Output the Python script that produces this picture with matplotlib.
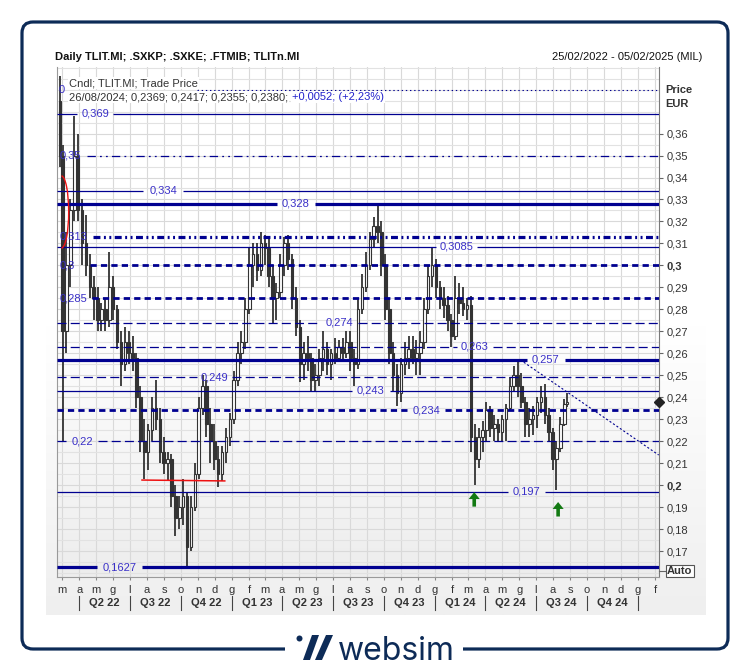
import numpy as np
import pandas as pd
import matplotlib
matplotlib.use("Agg")
import matplotlib.pyplot as plt
import matplotlib.dates as mdates
import matplotlib.transforms as mtransforms
from matplotlib.patches import FancyBboxPatch, Rectangle, Polygon, Circle, Arc
from matplotlib.colors import LinearSegmentedColormap
from matplotlib.lines import Line2D

plt.rcParams['font.family'] = ['Liberation Sans', 'DejaVu Sans']
plt.rcParams['lines.scale_dashes'] = False

# ---------------- data (weekly candles) ----------------
week_open = [0.375, 0.35, 0.27, 0.30, 0.325, 0.35, 0.325, 0.31, 0.30, 0.29,
             0.285, 0.275, 0.28, 0.275, 0.29, 0.28, 0.265, 0.255, 0.265, 0.26,
             0.258, 0.24, 0.22, 0.215, 0.225, 0.235, 0.23, 0.215, 0.21, 0.212,
             0.195, 0.185, 0.19, 0.195, 0.172, 0.19, 0.205, 0.235, 0.245, 0.228,
             0.22, 0.212, 0.205, 0.215, 0.222, 0.23, 0.248, 0.26, 0.265, 0.28,
             0.30, 0.305, 0.298, 0.31, 0.308, 0.295, 0.285, 0.288, 0.30, 0.31,
             0.303, 0.285, 0.272, 0.255, 0.26, 0.258, 0.248, 0.25, 0.258, 0.262,
             0.255, 0.26, 0.258, 0.263, 0.26, 0.265, 0.258, 0.255, 0.28, 0.29,
             0.30, 0.312, 0.318, 0.315, 0.30, 0.28, 0.26, 0.25, 0.242, 0.255,
             0.258, 0.262, 0.258, 0.26, 0.265, 0.28, 0.295, 0.30, 0.29, 0.285,
             0.282, 0.275, 0.268, 0.285, 0.283, 0.28, 0.282, 0.222, 0.212, 0.222,
             0.225, 0.234, 0.226, 0.228, 0.224, 0.23, 0.235, 0.245, 0.25, 0.245,
             0.238, 0.228, 0.23, 0.232, 0.238, 0.24, 0.232, 0.224, 0.212, 0.217,
             0.228, 0.2369]
week_high = [0.386, 0.355, 0.315, 0.33, 0.368, 0.36, 0.33, 0.323, 0.305, 0.295,
             0.29, 0.283, 0.285, 0.306, 0.295, 0.282, 0.27, 0.272, 0.27, 0.268,
             0.26, 0.245, 0.23, 0.228, 0.24, 0.248, 0.235, 0.222, 0.215, 0.214,
             0.20, 0.195, 0.203, 0.197, 0.195, 0.21, 0.24, 0.25, 0.248, 0.235,
             0.228, 0.218, 0.218, 0.226, 0.233, 0.252, 0.265, 0.27, 0.285, 0.308,
             0.31, 0.31, 0.315, 0.314, 0.313, 0.30, 0.292, 0.305, 0.313, 0.314,
             0.305, 0.29, 0.275, 0.265, 0.268, 0.26, 0.255, 0.262, 0.27, 0.265,
             0.262, 0.267, 0.266, 0.267, 0.27, 0.27, 0.262, 0.285, 0.296, 0.306,
             0.315, 0.322, 0.328, 0.32, 0.305, 0.285, 0.265, 0.255, 0.258, 0.265,
             0.268, 0.268, 0.266, 0.27, 0.285, 0.30, 0.3085, 0.303, 0.293, 0.29,
             0.286, 0.278, 0.295, 0.292, 0.29, 0.285, 0.286, 0.228, 0.226, 0.229,
             0.238, 0.236, 0.232, 0.23, 0.232, 0.237, 0.249, 0.254, 0.257, 0.251,
             0.24, 0.235, 0.236, 0.24, 0.245, 0.246, 0.235, 0.226, 0.22, 0.231,
             0.239, 0.2417]
week_low = [0.345, 0.22, 0.26, 0.29, 0.32, 0.32, 0.30, 0.295, 0.285, 0.275,
            0.27, 0.27, 0.27, 0.272, 0.275, 0.262, 0.245, 0.252, 0.255, 0.252,
            0.235, 0.215, 0.203, 0.207, 0.22, 0.225, 0.21, 0.205, 0.202, 0.19,
            0.177, 0.18, 0.182, 0.1627, 0.17, 0.188, 0.203, 0.232, 0.222, 0.21,
            0.207, 0.199, 0.202, 0.21, 0.218, 0.228, 0.245, 0.255, 0.262, 0.278,
            0.29, 0.293, 0.295, 0.30, 0.29, 0.274, 0.275, 0.285, 0.295, 0.298,
            0.28, 0.268, 0.247, 0.248, 0.252, 0.243, 0.243, 0.245, 0.252, 0.25,
            0.248, 0.255, 0.256, 0.257, 0.258, 0.252, 0.245, 0.253, 0.278, 0.288,
            0.298, 0.308, 0.31, 0.295, 0.275, 0.255, 0.243, 0.236, 0.238, 0.25,
            0.253, 0.255, 0.25, 0.25, 0.262, 0.278, 0.29, 0.285, 0.28, 0.276,
            0.27, 0.263, 0.266, 0.278, 0.277, 0.275, 0.215, 0.20, 0.208, 0.215,
            0.22, 0.222, 0.22, 0.22, 0.22, 0.22, 0.234, 0.243, 0.24, 0.235,
            0.222, 0.222, 0.223, 0.226, 0.233, 0.228, 0.22, 0.207, 0.1977, 0.215,
            0.227, 0.2355]
week_close = [0.35, 0.27, 0.30, 0.325, 0.35, 0.325, 0.31, 0.30, 0.29, 0.285,
              0.275, 0.28, 0.275, 0.29, 0.28, 0.265, 0.255, 0.265, 0.26, 0.258,
              0.24, 0.22, 0.215, 0.225, 0.235, 0.23, 0.215, 0.21, 0.212, 0.195,
              0.185, 0.19, 0.195, 0.172, 0.19, 0.205, 0.235, 0.245, 0.228, 0.22,
              0.212, 0.205, 0.215, 0.222, 0.23, 0.248, 0.26, 0.265, 0.28, 0.30,
              0.305, 0.298, 0.31, 0.308, 0.295, 0.285, 0.288, 0.30, 0.31, 0.303,
              0.285, 0.272, 0.255, 0.26, 0.258, 0.248, 0.25, 0.258, 0.262, 0.255,
              0.26, 0.258, 0.263, 0.26, 0.265, 0.258, 0.255, 0.28, 0.29, 0.30,
              0.312, 0.318, 0.315, 0.30, 0.28, 0.26, 0.25, 0.242, 0.255, 0.258,
              0.262, 0.258, 0.26, 0.265, 0.28, 0.295, 0.30, 0.29, 0.285, 0.282,
              0.275, 0.268, 0.285, 0.283, 0.28, 0.282, 0.222, 0.212, 0.222, 0.225,
              0.234, 0.226, 0.228, 0.224, 0.23, 0.235, 0.245, 0.25, 0.245, 0.238,
              0.228, 0.23, 0.232, 0.238, 0.24, 0.232, 0.224, 0.212, 0.217, 0.228,
              0.2369, 0.2380]

# analyst horizontal levels
level_values = [0.38, 0.369, 0.35, 0.334, 0.328, 0.313, 0.3085, 0.30, 0.285,
                0.274, 0.263, 0.257, 0.249, 0.243, 0.234, 0.22, 0.197, 0.1627]
level_labels = ['0', '0,369', '0,35', '0,334', '0,328', '0,313', '0,3085', '0,3',
                '0,285', '0,274', '0,263', '0,257', '0,249', '0,243', '0,234',
                '0,22', '0,197', '0,1627']

# trend line and markers
trend_start = ('2024-06-03', 0.257)
trend_end = ('2025-02-07', 0.2137)
red_segment = (('2022-07-23', 0.2023), ('2022-12-19', 0.2019))
arrow_dates = ['2024-03-12', '2024-08-10']
arrow_tops = [0.1968, 0.1923]
last_price = 0.238

month_letters = ['g', 'f', 'm', 'a', 'm', 'g', 'l', 'a', 's', 'o', 'n', 'd']
quarter_labels = ['Q2 22', 'Q3 22', 'Q4 22', 'Q1 23', 'Q2 23', 'Q3 23', 'Q4 23',
                  'Q1 24', 'Q2 24', 'Q3 24', 'Q4 24']

# ---------------- layout / styles ----------------
W, H = 751, 672
NAVY = '#000090'
LBL = '#3a30c8'
TXT = '#333333'
base = pd.Timestamp('2022-03-01')


def dn(d):
    return mdates.date2num(base + pd.Timedelta(days=d))


def fx(px):
    return px / W


def fy(py):
    return 1 - py / H


level_styles = [
    (0.8, (0, (1, 2))), (0.9, '-'), (0.9, (0, (6, 3, 1.3, 3, 1.3, 3))), (0.9, '-'),
    (2.3, '-'), (2.3, (0, (5, 2.5, 1.4, 2.5, 1.4, 2.5))), (0.9, '-'),
    (2.0, (0, (4.5, 3))), (2.0, (0, (4.5, 3))), (0.9, (0, (6.5, 3))),
    (0.9, (0, (6.5, 3))), (2.3, '-'), (0.9, (0, (6.5, 3))), (0.9, '-'),
    (2.0, (0, (4.5, 3))), (0.9, (0, (6.5, 3))), (0.9, '-'), (2.3, '-')]
level_gaps = [(-10, 243), (27, 92), (-10, 45), (146, 218), (387, 455), (-10, 56),
              (673, 747), (-10, 50), (-10, 54), (464, 533), (711, 776),
              (837, 905), (243, 306), (522, 590), (623, 689), (9, 65),
              (803, 869), (63, 144)]

fig = plt.figure(figsize=(W / 100, H / 100), dpi=100)
fig.patch.set_facecolor('white')

grad = np.linspace(0, 1, 256).reshape(-1, 1)
cmap_bg = LinearSegmentedColormap.from_list('bg', ['#ffffff', '#ffffff', '#efefef'])
bg = fig.add_axes([fx(46), fy(615), fx(706) - fx(46), (615 - 40) / H], zorder=0)
bg.set_axis_off()
bg.imshow(grad, aspect='auto', cmap=cmap_bg, extent=[0, 1, 0, 1], origin='upper')

rect = [fx(57), fy(577), (659 - 57) / W, (577 - 67) / H]
pbg = fig.add_axes(rect, zorder=0.5)
pbg.set_axis_off()
cmap_pl = LinearSegmentedColormap.from_list('pl', ['#ffffff', '#ffffff', '#ededed'])
pbg.imshow(grad, aspect='auto', cmap=cmap_pl, extent=[0, 1, 0, 1], origin='upper')

ax = fig.add_axes(rect, zorder=1)
ax.set_facecolor('none')

xmin, xmax = mdates.date2num(pd.Timestamp('2022-02-20')), mdates.date2num(pd.Timestamp('2025-02-07 14:00'))
ax.set_xlim(xmin, xmax)
ax.set_ylim(0.15817, 0.3903)

# grid & ticks
month_starts = pd.date_range('2022-03-01', '2025-02-01', freq='MS')
ax.set_xticks(mdates.date2num(month_starts))
ax.set_xticklabels([month_letters[m.month - 1] for m in month_starts])
yt = np.round(np.arange(0.17, 0.3601, 0.01), 2)
ax.yaxis.tick_right()
ax.set_yticks(yt)
ylabels = [('%.2f' % v).rstrip('0').replace('.', ',') for v in yt]
ax.set_yticklabels(ylabels)
for t, v in zip(ax.get_yticklabels(), yt):
    if abs(v - 0.3) < 1e-9 or abs(v - 0.2) < 1e-9:
        t.set_fontweight('bold')
ax.set_yticks(np.round(np.arange(0.16, 0.3901, 0.005), 3), minor=True)
ax.tick_params(axis='y', which='major', length=3, color='#666666', labelsize=8,
               labelcolor=TXT, pad=2.5, right=True, left=False)
ax.tick_params(axis='y', which='minor', length=0)
ax.tick_params(axis='x', length=2.2, color='#888888', labelsize=8, labelcolor=TXT, pad=3.5)
ax.grid(True, which='major', color='#d9d9d9', lw=0.8, zorder=0)
ax.grid(True, which='minor', axis='y', color='#e2e2e2', lw=0.8, zorder=0)
ax.set_axisbelow(True)
for s in ['left', 'bottom']:
    ax.spines[s].set_color('#9a9a9a')
ax.spines['right'].set_color('#7a7a7a')
ax.spines['top'].set_visible(False)

# candles
dates = list(pd.date_range('2022-02-23', periods=len(week_open), freq='7D'))
dates[0] = pd.Timestamp('2022-02-25')
dates[-1] = pd.Timestamp('2024-08-26')
xd = mdates.date2num(dates)
o = np.array(week_open); h = np.array(week_high)
l = np.array(week_low); c = np.array(week_close)
up = c >= o
ax.vlines(xd, l, h, color='#333333', lw=1.3, zorder=3)
ax.bar(xd, np.maximum(np.abs(c - o), 0.0006), bottom=np.minimum(o, c), width=4.6,
       color=np.where(up, 'white', '#333333'), edgecolor='#333333', lw=0.8, zorder=4)

# level lines
for v, lab, (lw, ls), (g0, g1) in zip(level_values, level_labels, level_styles, level_gaps):
    segs = []
    if g0 > -5:
        segs.append((xmin, dn(g0)))
    segs.append((dn(g1), xmax))
    for a, b in segs:
        ax.plot([a, b], [v, v], color=NAVY, lw=lw, ls=ls, solid_capstyle='butt',
                dash_capstyle='butt', zorder=5)
    if g0 > -5:
        ax.text(dn((g0 + g1) / 2), v, lab, color=LBL, fontsize=8, ha='center',
                va='center', zorder=6)
    elif lab == '0':
        ax.text(dn(0), v, lab, color=LBL, fontsize=8, ha='center', va='center', zorder=6)
    else:
        ax.text(dn(-3.6), v, lab, color=LBL, fontsize=8, ha='left', va='center', zorder=6)

# trend line
ax.plot(mdates.date2num([pd.Timestamp(trend_start[0]), pd.Timestamp(trend_end[0])]),
        [trend_start[1], trend_end[1]], color=NAVY, lw=0.8, ls=(0, (1.5, 1.5)), zorder=5)

# red annotations
(rs0, rv0), (rs1, rv1) = red_segment
ax.plot(mdates.date2num([pd.Timestamp(rs0), pd.Timestamp(rs1)]), [rv0, rv1],
        color='#ee1111', lw=1.1, zorder=6)
ax.add_patch(Arc((dn(-1.0), 0.3243), 26, 0.0328, theta1=-90, theta2=90,
                 color='#ee1111', lw=1.0, zorder=7))

# green arrows
for d, top in zip(arrow_dates, arrow_tops):
    xa = mdates.date2num(pd.Timestamp(d))
    ax.annotate('', xy=(xa, top), xytext=(xa, top - 0.0066),
                arrowprops=dict(facecolor='#137a13', edgecolor='none', width=2.6,
                                headwidth=8, headlength=5, shrink=0), zorder=7)

# last price marker
ax.plot([xmax], [last_price], marker='D', ms=5, color='#222222', clip_on=False, zorder=10)

# quarter labels
trans = mtransforms.blended_transform_factory(ax.transData, ax.transAxes)
q_starts = pd.date_range('2022-04-01', '2025-01-01', freq='QS')
for i, lab in enumerate(quarter_labels):
    mid = (mdates.date2num(q_starts[i]) + mdates.date2num(q_starts[i + 1])) / 2
    ax.text(mid, (577 - 603) / 510, lab, transform=trans, ha='center', va='center',
            fontsize=8, fontweight='bold', color=TXT)
for qs in q_starts:
    ax.plot([mdates.date2num(qs)] * 2, [(577 - 596) / 510, (577 - 610) / 510],
            transform=trans, color='#444444', lw=0.8, clip_on=False)

# header text inside plot
t1 = ax.text(0.02, (577 - 83) / 510, 'Cndl; TLIT.MI; Trade Price', transform=ax.transAxes,
             fontsize=8, color=TXT, ha='left', va='center', zorder=8,
             bbox=dict(boxstyle='square,pad=0.08', fc='white', ec='none'))
t2 = ax.text(0.02, (577 - 97) / 510, '26/08/2024; 0,2369; 0,2417; 0,2355; 0,2380;',
             transform=ax.transAxes, fontsize=8, color=TXT, ha='left', va='center',
             zorder=8, bbox=dict(boxstyle='square,pad=0.08', fc='white', ec='none'))
ax.annotate('+0,0052; (+2,23%)', xy=(1, 0.5), xycoords=t2, xytext=(3, 0),
            textcoords='offset points', fontsize=8, color='#2222cc', ha='left',
            va='center', zorder=8,
            bbox=dict(boxstyle='square,pad=0.08', fc='white', ec='none'))

# figure texts
fig.text(fx(55), fy(57), 'Daily TLIT.MI; .SXKP; .SXKE; .FTMIB; TLITn.MI', fontsize=8,
         fontweight='bold', color='#111111', ha='left', va='center', zorder=5)
fig.text(fx(702), fy(57), '25/02/2022 - 05/02/2025 (MIL)', fontsize=8, color='#111111',
         ha='right', va='center', zorder=5)
fig.text(fx(665), fy(90), 'Price', fontsize=8, fontweight='bold', color=TXT,
         ha='left', va='center', zorder=5)
fig.text(fx(665), fy(104), 'EUR', fontsize=8, fontweight='bold', color=TXT,
         ha='left', va='center', zorder=5)
fig.text(fx(667), fy(571), 'Auto', fontsize=8, fontweight='bold', color=TXT,
         ha='left', va='center', zorder=5,
         bbox=dict(boxstyle='square,pad=0.12', fc='white', ec='#555555', lw=0.8))
fig.add_artist(Line2D([fx(659), fx(665)], [fy(571)] * 2, color='#666666', lw=0.8, zorder=5))

# outer rounded frame
frame = FancyBboxPatch((0.22, 0.23), 7.06, 6.27, boxstyle='round,pad=0,rounding_size=0.11',
                       transform=fig.dpi_scale_trans, fill=False, ec='#0d2b57', lw=2.3,
                       zorder=3)
fig.add_artist(frame)
fig.add_artist(Rectangle((2.85, 0.15), 1.78, 0.16, transform=fig.dpi_scale_trans,
                         fc='white', ec='none', zorder=4))
# websim logo
LOGO = '#0d2b57'
fig.add_artist(Circle((2.995, 0.335), 0.03, transform=fig.dpi_scale_trans, fc=LOGO,
                      ec='none', zorder=5))
fig.add_artist(Polygon([(3.03, 0.12), (3.10, 0.12), (3.19, 0.37), (3.12, 0.37)],
                       closed=True, transform=fig.dpi_scale_trans, fc=LOGO, ec='none', zorder=5))
fig.add_artist(Polygon([(3.15, 0.12), (3.22, 0.12), (3.33, 0.37), (3.26, 0.37)],
                       closed=True, transform=fig.dpi_scale_trans, fc=LOGO, ec='none', zorder=5))
fig.text(fx(396), fy(660), 'websim', fontsize=23, color=LOGO, ha='center',
         va='baseline', family=['Inter', 'DejaVu Sans'], zorder=5)

fig.savefig('out.png', dpi=100)
